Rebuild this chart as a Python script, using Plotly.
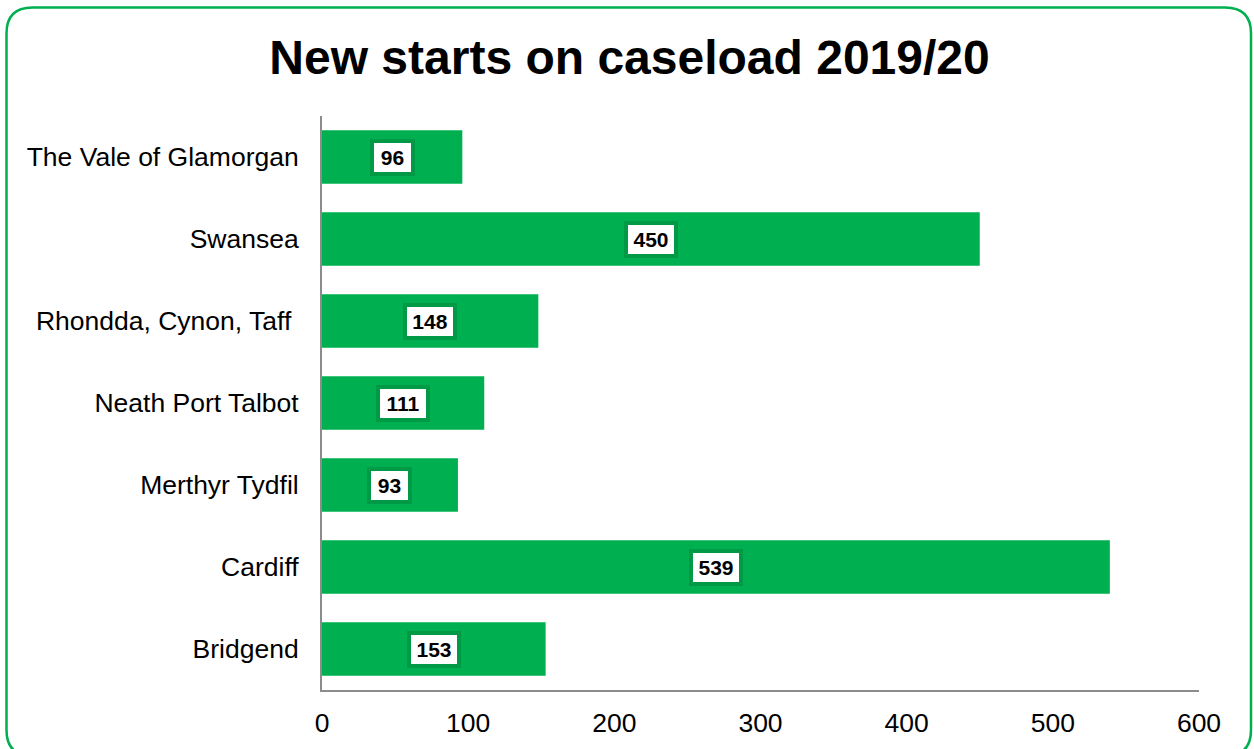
import plotly.graph_objects as go

categories = ["Bridgend", "Cardiff", "Merthyr Tydfil", "Neath Port Talbot",
              "Rhondda, Cynon, Taff ", "Swansea", "The Vale of Glamorgan"]
values = [153, 539, 93, 111, 148, 450, 96]
x_ticks = [0, 100, 200, 300, 400, 500, 600]

W, H = 1254, 749
L, R, T, B = 322, 55, 116, 59
pw, ph = W - L - R, H - T - B

fig = go.Figure(go.Bar(
    x=values, y=categories, orientation="h",
    marker=dict(color="#00B050", line=dict(width=0)),
    width=0.65, hoverinfo="skip",
))

for c, v in zip(categories, values):
    fig.add_annotation(
        x=v / 2, y=c, xref="x", yref="y", text="<b>%d</b>" % v,
        showarrow=False, font=dict(family="Liberation Sans, Arial", size=21, color="black"),
        bgcolor="white", bordercolor="#009A46", borderwidth=4, borderpad=2,
        width=15 + 9 * len(str(v)), height=25,
    )

# rounded border around the chart (pixel -> paper coordinates)
def px(xp): return (xp - L) / pw
def py(yp): return (H - B - yp) / ph
x0, y0, x1, y1, r = 6.5, 7.5, 1251, 756, 26
path = (f"M {px(x0 + r)},{py(y0)} L {px(x1 - r)},{py(y0)} "
        f"Q {px(x1)},{py(y0)} {px(x1)},{py(y0 + r)} "
        f"L {px(x1)},{py(y1 - r)} Q {px(x1)},{py(y1)} {px(x1 - r)},{py(y1)} "
        f"L {px(x0 + r)},{py(y1)} Q {px(x0)},{py(y1)} {px(x0)},{py(y1 - r)} "
        f"L {px(x0)},{py(y0 + r)} Q {px(x0)},{py(y0)} {px(x0 + r)},{py(y0)} Z")
fig.add_shape(type="path", path=path, xref="paper", yref="paper",
              line=dict(color="#00B050", width=2.5), layer="above")

fig.update_layout(
    width=W, height=H,
    margin=dict(l=L, r=R, t=T, b=B, autoexpand=False),
    paper_bgcolor="white", plot_bgcolor="white",
    font=dict(family="Liberation Sans, Arial", size=26.5, color="black"),
    title=dict(text="<b>New starts on caseload 2019/20</b>",
               x=0.502, xanchor="center", y=1 - 57 / H, yanchor="middle",
               yref="container", font=dict(size=48, color="black")),
    showlegend=False, bargap=0.35,
    xaxis=dict(range=[0, 600], tickvals=x_ticks, showgrid=False, zeroline=False,
               showline=True, linecolor="#8C8C8C", linewidth=2,
               ticks="outside", ticklen=8, tickcolor="rgba(0,0,0,0)",
               fixedrange=True),
    yaxis=dict(categoryorder="array", categoryarray=categories,
               range=[-0.5, 6.5], showgrid=False, zeroline=False,
               showline=True, linecolor="#8C8C8C", linewidth=2,
               ticks="outside", ticklen=16, tickcolor="rgba(0,0,0,0)",
               fixedrange=True),
)

fig.write_html("out.html", config={"displayModeBar": False},
               post_script="document.body.style.margin='0';document.body.style.overflow='hidden';")
